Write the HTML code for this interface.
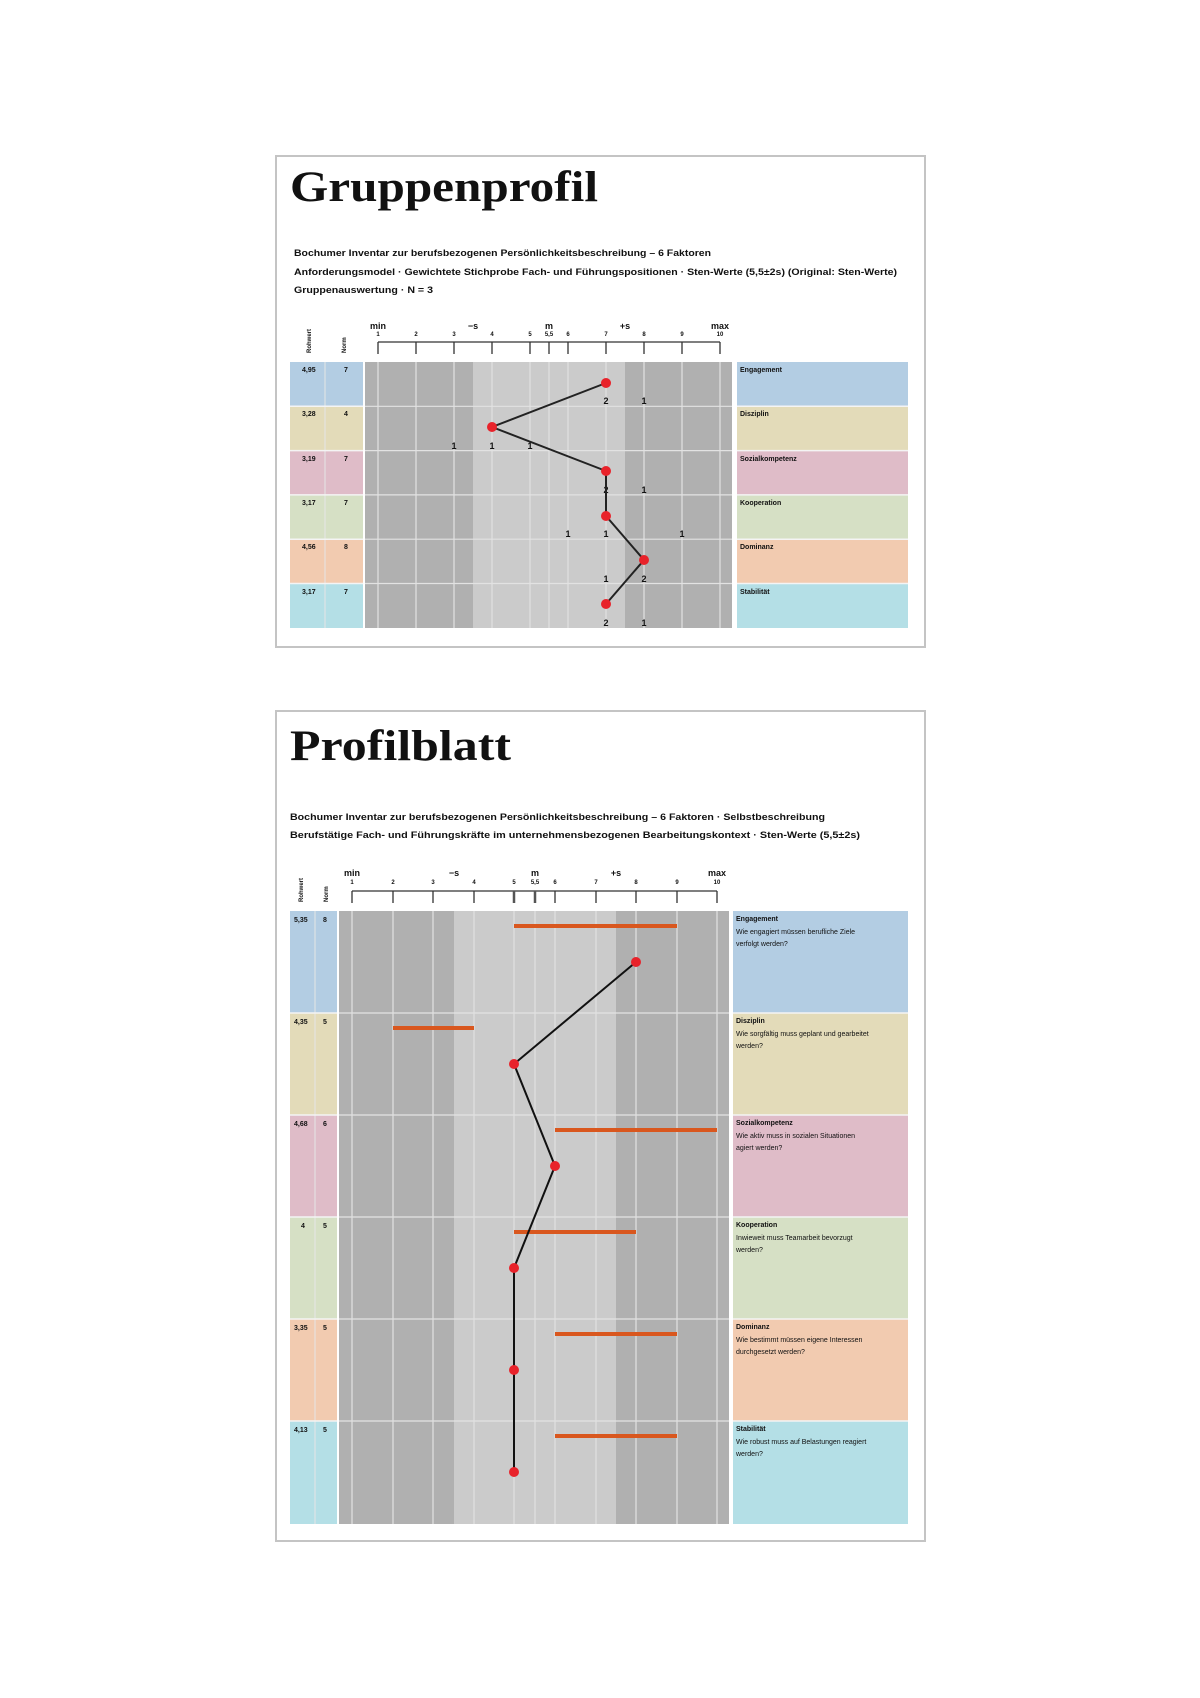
<!DOCTYPE html>
<html><head><meta charset="utf-8"><style>
html,body{margin:0;padding:0;background:#fff;}
svg{display:block;}
text{font-family:"Liberation Sans",sans-serif;font-weight:bold;fill:#111;}
.t{font-family:"Liberation Serif",serif;font-weight:bold;}
</style></head><body>
<svg width="1200" height="1698" viewBox="0 0 1200 1698" xmlns="http://www.w3.org/2000/svg">
<rect x="0" y="0" width="1200" height="1698" fill="#fff"/>

<!-- ============ FRAME 1 ============ -->
<rect x="276" y="156" width="649" height="491" fill="#fff" stroke="#c4c4c4" stroke-width="2"/>
<text class="t" x="290" y="201" font-size="43" textLength="308" lengthAdjust="spacingAndGlyphs">Gruppenprofil</text>
<text x="294" y="256" font-size="9" textLength="417" lengthAdjust="spacingAndGlyphs">Bochumer Inventar zur berufsbezogenen Persönlichkeitsbeschreibung – 6 Faktoren</text>
<text x="294" y="275" font-size="9" textLength="603" lengthAdjust="spacingAndGlyphs">Anforderungsmodel · Gewichtete Stichprobe Fach- und Führungspositionen · Sten-Werte (5,5±2s) (Original: Sten-Werte)</text>
<text x="294" y="293" font-size="9" textLength="139" lengthAdjust="spacingAndGlyphs">Gruppenauswertung · N = 3</text>

<!-- column headers -->
<text x="0" y="0" font-size="6" transform="translate(311,353) rotate(-90)">Rohwert</text>
<text x="0" y="0" font-size="6" transform="translate(346,353) rotate(-90)">Norm</text>

<!-- axis 1: x = 378 + (v-1)*38 -->
<g font-size="9" text-anchor="middle">
<text x="378" y="329">min</text><text x="473" y="329">−s</text><text x="549" y="329">m</text><text x="625" y="329">+s</text><text x="720" y="329">max</text>
</g>
<g font-size="6" text-anchor="middle">
<text x="378" y="336">1</text><text x="416" y="336">2</text><text x="454" y="336">3</text><text x="492" y="336">4</text><text x="530" y="336">5</text><text x="549" y="336">5,5</text><text x="568" y="336">6</text><text x="606" y="336">7</text><text x="644" y="336">8</text><text x="682" y="336">9</text><text x="720" y="336">10</text>
</g>
<g stroke="#333" stroke-width="1.3">
<line x1="378" y1="342" x2="720" y2="342"/>
<line x1="378" y1="342" x2="378" y2="354"/><line x1="416" y1="342" x2="416" y2="354"/><line x1="454" y1="342" x2="454" y2="354"/><line x1="492" y1="342" x2="492" y2="354"/><line x1="530" y1="342" x2="530" y2="354"/><line x1="549" y1="342" x2="549" y2="354"/><line x1="568" y1="342" x2="568" y2="354"/><line x1="606" y1="342" x2="606" y2="354"/><line x1="644" y1="342" x2="644" y2="354"/><line x1="682" y1="342" x2="682" y2="354"/><line x1="720" y1="342" x2="720" y2="354"/>
</g>

<!-- rows frame1: top 362, h 44.3 -->
<g>
<rect x="290" y="362" width="73" height="44.3" fill="#b3cde3"/>
<rect x="290" y="406.3" width="73" height="44.3" fill="#e3dbb9"/>
<rect x="290" y="450.6" width="73" height="44.3" fill="#dfbcc8"/>
<rect x="290" y="494.9" width="73" height="44.3" fill="#d6e0c5"/>
<rect x="290" y="539.2" width="73" height="44.3" fill="#f2cbb0"/>
<rect x="290" y="583.5" width="73" height="44.5" fill="#b4dfe6"/>
<rect x="737" y="362" width="171" height="44.3" fill="#b3cde3"/>
<rect x="737" y="406.3" width="171" height="44.3" fill="#e3dbb9"/>
<rect x="737" y="450.6" width="171" height="44.3" fill="#dfbcc8"/>
<rect x="737" y="494.9" width="171" height="44.3" fill="#d6e0c5"/>
<rect x="737" y="539.2" width="171" height="44.3" fill="#f2cbb0"/>
<rect x="737" y="583.5" width="171" height="44.5" fill="#b4dfe6"/>
<line x1="325" y1="362" x2="325" y2="628" stroke="#e6e6e6" stroke-width="1"/>
</g>
<!-- chart bg -->
<rect x="365" y="362" width="367" height="266" fill="#b0b0b0"/>
<rect x="473" y="362" width="152" height="266" fill="#cbcbcb"/>
<g stroke="#e2e2e2" stroke-width="1.2">
<line x1="378" y1="362" x2="378" y2="628"/><line x1="416" y1="362" x2="416" y2="628"/><line x1="454" y1="362" x2="454" y2="628"/><line x1="492" y1="362" x2="492" y2="628"/><line x1="530" y1="362" x2="530" y2="628"/><line x1="549" y1="362" x2="549" y2="628"/><line x1="568" y1="362" x2="568" y2="628"/><line x1="606" y1="362" x2="606" y2="628"/><line x1="644" y1="362" x2="644" y2="628"/><line x1="682" y1="362" x2="682" y2="628"/><line x1="720" y1="362" x2="720" y2="628"/>
<line x1="365" y1="406.3" x2="732" y2="406.3"/><line x1="365" y1="450.6" x2="732" y2="450.6"/><line x1="365" y1="494.9" x2="732" y2="494.9"/><line x1="365" y1="539.2" x2="732" y2="539.2"/><line x1="365" y1="583.5" x2="732" y2="583.5"/>
</g>
<g stroke="#f4f4f4" stroke-width="1.5">
<line x1="290" y1="406.3" x2="363" y2="406.3"/><line x1="290" y1="450.6" x2="363" y2="450.6"/><line x1="290" y1="494.9" x2="363" y2="494.9"/><line x1="290" y1="539.2" x2="363" y2="539.2"/><line x1="290" y1="583.5" x2="363" y2="583.5"/>
<line x1="737" y1="406.3" x2="908" y2="406.3"/><line x1="737" y1="450.6" x2="908" y2="450.6"/><line x1="737" y1="494.9" x2="908" y2="494.9"/><line x1="737" y1="539.2" x2="908" y2="539.2"/><line x1="737" y1="583.5" x2="908" y2="583.5"/>
</g>
<g font-size="7" fill="#333">
<text x="302" y="372">4,95</text><text x="344" y="372">7</text>
<text x="302" y="416">3,28</text><text x="344" y="416">4</text>
<text x="302" y="461">3,19</text><text x="344" y="461">7</text>
<text x="302" y="505">3,17</text><text x="344" y="505">7</text>
<text x="302" y="549">4,56</text><text x="344" y="549">8</text>
<text x="302" y="594">3,17</text><text x="344" y="594">7</text>
</g>
<g font-size="7">
<text x="740" y="372">Engagement</text><text x="740" y="416">Disziplin</text><text x="740" y="461">Sozialkompetenz</text><text x="740" y="505">Kooperation</text><text x="740" y="549">Dominanz</text><text x="740" y="594">Stabilität</text>
</g>
<!-- counts -->
<g font-size="9" text-anchor="middle">
<text x="606" y="404">2</text><text x="644" y="404">1</text>
<text x="454" y="449">1</text><text x="492" y="449">1</text><text x="530" y="449">1</text>
<text x="606" y="493">2</text><text x="644" y="493">1</text>
<text x="568" y="537">1</text><text x="606" y="537">1</text><text x="682" y="537">1</text>
<text x="606" y="582">1</text><text x="644" y="582">2</text>
<text x="606" y="626">2</text><text x="644" y="626">1</text>
</g>
<polyline points="606,383 492,427 606,471 606,516 644,560 606,604" fill="none" stroke="#222" stroke-width="2"/>
<g fill="#e8222a">
<circle cx="606" cy="383" r="5"/><circle cx="492" cy="427" r="5"/><circle cx="606" cy="471" r="5"/><circle cx="606" cy="516" r="5"/><circle cx="644" cy="560" r="5"/><circle cx="606" cy="604" r="5"/>
</g>

<!-- ============ FRAME 2 ============ -->
<rect x="276" y="711" width="649" height="830" fill="#fff" stroke="#c4c4c4" stroke-width="2"/>
<text class="t" x="290" y="760" font-size="43" textLength="221" lengthAdjust="spacingAndGlyphs">Profilblatt</text>
<text x="290" y="820" font-size="9" textLength="535" lengthAdjust="spacingAndGlyphs">Bochumer Inventar zur berufsbezogenen Persönlichkeitsbeschreibung – 6 Faktoren · Selbstbeschreibung</text>
<text x="290" y="838" font-size="9" textLength="570" lengthAdjust="spacingAndGlyphs">Berufstätige Fach- und Führungskräfte im unternehmensbezogenen Bearbeitungskontext · Sten-Werte (5,5±2s)</text>

<text x="0" y="0" font-size="6" transform="translate(303,902) rotate(-90)">Rohwert</text>
<text x="0" y="0" font-size="6" transform="translate(328,902) rotate(-90)">Norm</text>

<!-- axis 2: x = 352 + (v-1)*40.6 -->
<g font-size="9" text-anchor="middle">
<text x="352" y="876">min</text><text x="454" y="876">−s</text><text x="535" y="876">m</text><text x="616" y="876">+s</text><text x="717" y="876">max</text>
</g>
<g font-size="6" text-anchor="middle">
<text x="352" y="884">1</text><text x="393" y="884">2</text><text x="433" y="884">3</text><text x="474" y="884">4</text><text x="514" y="884">5</text><text x="535" y="884">5,5</text><text x="555" y="884">6</text><text x="596" y="884">7</text><text x="636" y="884">8</text><text x="677" y="884">9</text><text x="717" y="884">10</text>
</g>
<g stroke="#333" stroke-width="1.3">
<line x1="352" y1="891" x2="717" y2="891"/>
<line x1="352" y1="891" x2="352" y2="903"/><line x1="393" y1="891" x2="393" y2="903"/><line x1="433" y1="891" x2="433" y2="903"/><line x1="474" y1="891" x2="474" y2="903"/><line x1="514" y1="891" x2="514" y2="903" stroke-width="2.5" stroke="#555"/><line x1="535" y1="891" x2="535" y2="903" stroke-width="2.5" stroke="#555"/><line x1="555" y1="891" x2="555" y2="903"/><line x1="596" y1="891" x2="596" y2="903"/><line x1="636" y1="891" x2="636" y2="903"/><line x1="677" y1="891" x2="677" y2="903"/><line x1="717" y1="891" x2="717" y2="903"/>
</g>

<!-- rows frame2: top 911, h 102 -->
<g>
<rect x="290" y="911" width="47" height="102" fill="#b3cde3"/>
<rect x="290" y="1013" width="47" height="102" fill="#e3dbb9"/>
<rect x="290" y="1115" width="47" height="102" fill="#dfbcc8"/>
<rect x="290" y="1217" width="47" height="102" fill="#d6e0c5"/>
<rect x="290" y="1319" width="47" height="102" fill="#f2cbb0"/>
<rect x="290" y="1421" width="47" height="103" fill="#b4dfe6"/>
<rect x="733" y="911" width="175" height="102" fill="#b3cde3"/>
<rect x="733" y="1013" width="175" height="102" fill="#e3dbb9"/>
<rect x="733" y="1115" width="175" height="102" fill="#dfbcc8"/>
<rect x="733" y="1217" width="175" height="102" fill="#d6e0c5"/>
<rect x="733" y="1319" width="175" height="102" fill="#f2cbb0"/>
<rect x="733" y="1421" width="175" height="103" fill="#b4dfe6"/>
<line x1="315" y1="911" x2="315" y2="1524" stroke="#e6e6e6" stroke-width="1"/>
</g>
<rect x="339" y="911" width="390" height="613" fill="#b0b0b0"/>
<rect x="454" y="911" width="162" height="613" fill="#cbcbcb"/>
<g stroke="#e2e2e2" stroke-width="1.2">
<line x1="352" y1="911" x2="352" y2="1524"/><line x1="393" y1="911" x2="393" y2="1524"/><line x1="433" y1="911" x2="433" y2="1524"/><line x1="474" y1="911" x2="474" y2="1524"/><line x1="514" y1="911" x2="514" y2="1524"/><line x1="535" y1="911" x2="535" y2="1524"/><line x1="555" y1="911" x2="555" y2="1524"/><line x1="596" y1="911" x2="596" y2="1524"/><line x1="636" y1="911" x2="636" y2="1524"/><line x1="677" y1="911" x2="677" y2="1524"/><line x1="717" y1="911" x2="717" y2="1524"/>
<line x1="339" y1="1013" x2="729" y2="1013"/><line x1="339" y1="1115" x2="729" y2="1115"/><line x1="339" y1="1217" x2="729" y2="1217"/><line x1="339" y1="1319" x2="729" y2="1319"/><line x1="339" y1="1421" x2="729" y2="1421"/>
</g>
<g stroke="#f4f4f4" stroke-width="1.5">
<line x1="290" y1="1013" x2="337" y2="1013"/><line x1="290" y1="1115" x2="337" y2="1115"/><line x1="290" y1="1217" x2="337" y2="1217"/><line x1="290" y1="1319" x2="337" y2="1319"/><line x1="290" y1="1421" x2="337" y2="1421"/>
<line x1="733" y1="1013" x2="908" y2="1013"/><line x1="733" y1="1115" x2="908" y2="1115"/><line x1="733" y1="1217" x2="908" y2="1217"/><line x1="733" y1="1319" x2="908" y2="1319"/><line x1="733" y1="1421" x2="908" y2="1421"/>
</g>
<g font-size="7" fill="#333">
<text x="294" y="922">5,35</text><text x="323" y="922">8</text>
<text x="294" y="1024">4,35</text><text x="323" y="1024">5</text>
<text x="294" y="1126">4,68</text><text x="323" y="1126">6</text>
<text x="301" y="1228">4</text><text x="323" y="1228">5</text>
<text x="294" y="1330">3,35</text><text x="323" y="1330">5</text>
<text x="294" y="1432">4,13</text><text x="323" y="1432">5</text>
</g>
<g font-size="7">
<text x="736" y="921">Engagement</text>
<text x="736" y="1023">Disziplin</text>
<text x="736" y="1125">Sozialkompetenz</text>
<text x="736" y="1227">Kooperation</text>
<text x="736" y="1329">Dominanz</text>
<text x="736" y="1431">Stabilität</text>
</g>
<g font-size="7" font-weight="normal" style="font-weight:normal">
<text x="736" y="934" style="font-weight:normal">Wie engagiert müssen berufliche Ziele</text><text x="736" y="946" style="font-weight:normal">verfolgt werden?</text>
<text x="736" y="1036" style="font-weight:normal">Wie sorgfältig muss geplant und gearbeitet</text><text x="736" y="1048" style="font-weight:normal">werden?</text>
<text x="736" y="1138" style="font-weight:normal">Wie aktiv muss in sozialen Situationen</text><text x="736" y="1150" style="font-weight:normal">agiert werden?</text>
<text x="736" y="1240" style="font-weight:normal">Inwieweit muss Teamarbeit bevorzugt</text><text x="736" y="1252" style="font-weight:normal">werden?</text>
<text x="736" y="1342" style="font-weight:normal">Wie bestimmt müssen eigene Interessen</text><text x="736" y="1354" style="font-weight:normal">durchgesetzt werden?</text>
<text x="736" y="1444" style="font-weight:normal">Wie robust muss auf Belastungen reagiert</text><text x="736" y="1456" style="font-weight:normal">werden?</text>
</g>
<!-- orange bars -->
<g stroke="#d9571e" stroke-width="4">
<line x1="514" y1="926" x2="677" y2="926"/>
<line x1="393" y1="1028" x2="474" y2="1028"/>
<line x1="555" y1="1130" x2="717" y2="1130"/>
<line x1="514" y1="1232" x2="636" y2="1232"/>
<line x1="555" y1="1334" x2="677" y2="1334"/>
<line x1="555" y1="1436" x2="677" y2="1436"/>
</g>
<polyline points="636,962 514,1064 555,1166 514,1268 514,1370 514,1472" fill="none" stroke="#111" stroke-width="2"/>
<g fill="#e8222a">
<circle cx="636" cy="962" r="5"/><circle cx="514" cy="1064" r="5"/><circle cx="555" cy="1166" r="5"/><circle cx="514" cy="1268" r="5"/><circle cx="514" cy="1370" r="5"/><circle cx="514" cy="1472" r="5"/>
</g>
</svg>
</body></html>
